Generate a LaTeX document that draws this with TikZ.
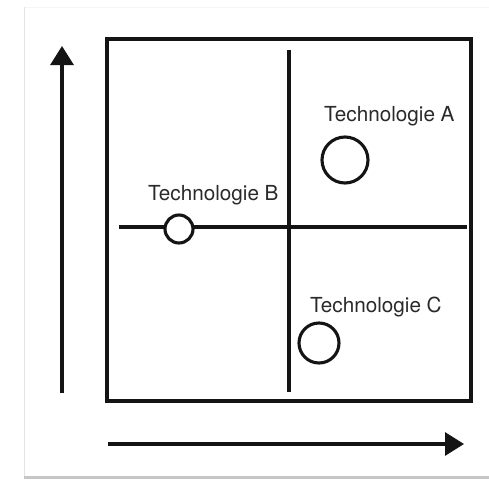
\documentclass[tikz,border=0pt]{standalone}
\usepackage{fontspec}
\setmainfont{TeX Gyre Heros}
\usetikzlibrary{arrows.meta}
\definecolor{ink}{HTML}{141414}
\definecolor{txt}{HTML}{2A2A2A}
\begin{document}
\begin{tikzpicture}[x=1pt,y=-1pt,
  inkline/.style={draw=ink,line width=3.1pt},
  frameline/.style={draw=ink,line width=3.3pt},
  techcircle/.style={circle,draw=ink,line width=3.1pt,fill=white,inner sep=0pt},
  techlabel/.style={anchor=base west,inner sep=0pt,text=txt,font=\fontsize{20.7}{24}\selectfont},
  axisarrow/.style={draw=ink,line width=3.1pt,-{Triangle[length=19pt,width=23pt]}}]
\useasboundingbox (0,0) rectangle (489,479);
% card
\fill[white] (0,0) rectangle (489,479);
\fill[gray!45] (24,475.5) rectangle (489,479);
\draw[gray!22,line width=1.2pt] (24.5,7) -- (24.5,475.5);
\draw[gray!8,line width=0.8pt] (25,7.5) -- (489,7.5);
% frame
\draw[frameline] (107,39) rectangle (471,401);
% quadrant lines
\coordinate (vt) at (289,50);
\coordinate (vb) at (289,392);
\coordinate (hl) at (119,227);
\coordinate (hr) at (467,227);
\draw[inkline] (vt) -- (vb);
\draw[inkline] (hl) -- (hr);
% axes
\coordinate (ys) at (62,393);
\coordinate (ye) at (62,46);
\coordinate (xs) at (108,444);
\coordinate (xe) at (464,444);
\draw[axisarrow] (ys) -- (ye);
\draw[axisarrow] (xs) -- (xe);
% technologies
\node[techcircle,minimum size=46pt] (ca) at (345,160) {};
\node[techcircle,minimum size=28pt] (cb) at (179,229) {};
\node[techcircle,minimum size=40pt] (cc) at (319,343) {};
\node[techlabel] (la) at (324,121.5) {Technologie A};
\node[techlabel] (lb) at (148,200) {Technologie B};
\node[techlabel] (lc) at (310,312) {Technologie C};
\end{tikzpicture}
\end{document}
